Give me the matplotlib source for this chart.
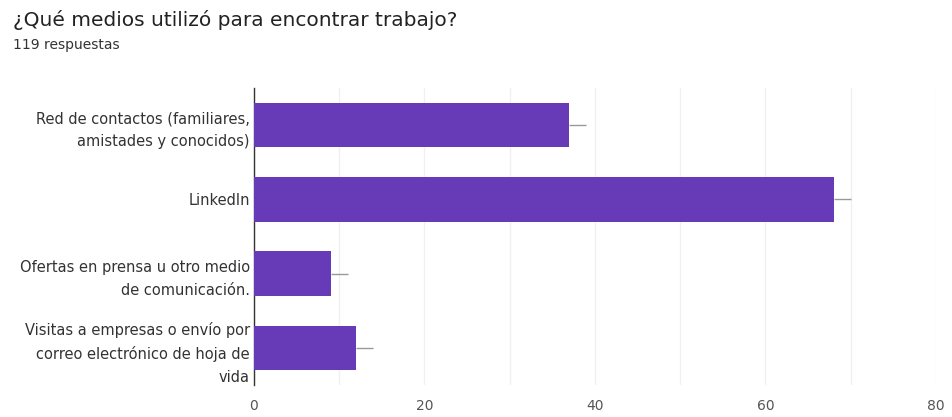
import matplotlib
matplotlib.use('Agg')
import matplotlib.pyplot as plt
import numpy as np

plt.rcParams['font.family'] = ['DejaVu Sans']

# datos
categorias = ['Red de contactos (familiares,\namistades y conocidos)',
              'LinkedIn',
              'Ofertas en prensa u otro medio\nde comunicación.',
              'Visitas a empresas o envío por\ncorreo electrónico de hoja de\nvida']
valores = [37, 68, 9, 12]
ticks_x = [0, 20, 40, 60, 80]

fig = plt.figure(figsize=(9.52, 4.17), dpi=100)
ax = fig.add_axes([0.2668, 0.0767, 0.7162, 0.7123])

y = np.arange(len(categorias))
ax.barh(y, valores, height=0.6, color='#673ab7', zorder=3)
# lineas pequenas al final de cada barra
ax.hlines(y, valores, np.array(valores) + 2, color='#999999', lw=1, zorder=3)

ax.set_xlim(0, 80)
ax.set_ylim(len(categorias) - 0.5, -0.5)
ax.set_xticks(ticks_x)
ax.set_xticks(np.arange(10, 80, 20), minor=True)
ax.grid(axis='x', which='both', color='#f0f0f0', lw=1, zorder=0)
ax.set_yticks(y)
ax.set_yticklabels(categorias, fontsize=10.5, color='#333333', linespacing=1.65)
ax.tick_params(axis='y', length=0, pad=3)
ax.tick_params(axis='x', which='both', length=0, pad=10, labelsize=10, labelcolor='#555555')
for s in ['top', 'right', 'bottom']:
    ax.spines[s].set_visible(False)
ax.spines['left'].set_color('#333333')
ax.spines['left'].set_linewidth(1)

fig.text(0.0137, 0.938, '¿Qué medios utilizó para encontrar trabajo?', fontsize=14.5, color='#222222')
fig.text(0.0137, 0.882, '119 respuestas', fontsize=10, color='#333333')

fig.savefig('out.png', dpi=100)
